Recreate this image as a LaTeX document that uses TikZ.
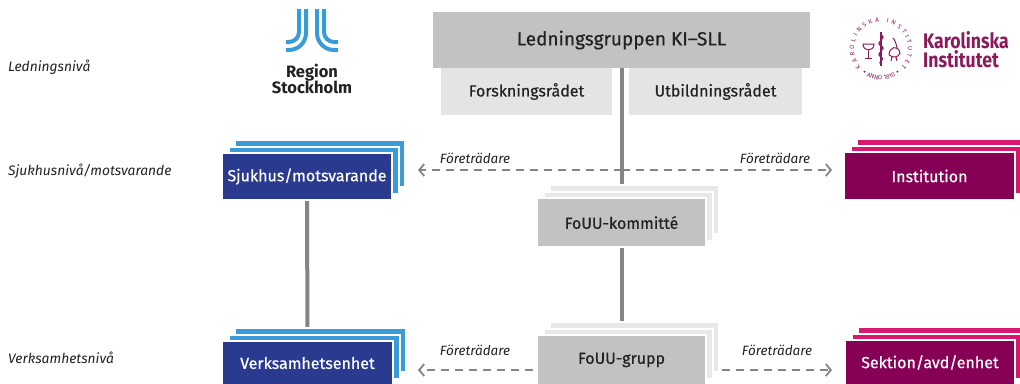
\documentclass[tikz,border=0pt]{standalone}
\usepackage{fontspec}
\setmainfont{Fira Sans}
\newfontfamily\boxfont{Fira Sans}[FakeBold=0.5]
\usetikzlibrary{arrows.meta,decorations.text}
\pgfdeclarelayer{backdrop}
\pgfdeclarelayer{conn}
\pgfdeclarelayer{bg}
\pgfsetlayers{backdrop,conn,bg,main}
\definecolor{rsdark}{HTML}{2A3B8F}
\definecolor{rslight}{HTML}{3A9BD9}
\definecolor{kipurple}{HTML}{860056}
\definecolor{kipink}{HTML}{D8186E}
\definecolor{boxgray}{HTML}{C2C2C2}
\definecolor{palegray}{HTML}{E4E4E4}
\definecolor{layergray}{HTML}{E8E8E8}
\definecolor{linegray}{HTML}{858585}
\definecolor{textdark}{HTML}{222222}
\definecolor{kitext}{HTML}{8A1A5C}
\newcommand\mystack[3]{%
  \begin{pgfonlayer}{bg}
    \path[layerbox,fill=#2] ([shift={(2*#3,-2*#3)}]#1.south west) rectangle ([shift={(2*#3,-2*#3)}]#1.north east);
    \path[layerbox,fill=#2] ([shift={(#3,-#3)}]#1.south west) rectangle ([shift={(#3,-#3)}]#1.north east);
  \end{pgfonlayer}}
\tikzset{
  frontbox/.style={draw=white, line width=2pt, inner sep=0pt, outer sep=0pt,
    font=\boxfont\fontsize{16}{18}\selectfont},
  layerbox/.style={draw=white, line width=2pt},
  flatbox/.style={inner sep=0pt, outer sep=0pt, text=textdark},
  vline/.style={draw=linegray, line width=4pt},
  repline/.style={draw=linegray, line width=1.8pt, dash pattern=on 8pt off 6pt,
    -{Straight Barb[length=5pt,width=12pt]}},
  replabel/.style={font=\itshape\fontsize{13.5}{15}\selectfont, text=textdark, inner sep=0pt},
  levellabel/.style={font=\itshape\fontsize{13.8}{15}\selectfont, text=textdark, anchor=west, inner sep=0pt},
  rsstripe/.style={draw=rslight, line width=4pt},
  kilogo/.style={inner sep=0pt, text=kitext, font=\bfseries\fontsize{21}{21}\selectfont, anchor=base west},
}
\begin{document}
\begin{tikzpicture}[x=1pt,y=-1pt]
\useasboundingbox (0,0) rectangle (1020,383);
\begin{pgfonlayer}{backdrop}
  \fill[white] (0,0) rectangle (1020,383);
\end{pgfonlayer}

% level labels
\node[levellabel] (lvl1) at (8,67) {Ledningsnivå};
\node[levellabel] (lvl2) at (8,171) {Sjukhusnivå/motsvarande};
\node[levellabel] (lvl3) at (8,358) {Verksamhetsnivå};

% top management
\node[flatbox, fill=boxgray, minimum width=377pt, minimum height=56pt,
  font=\boxfont\fontsize{19}{20}\selectfont] (lg) at (621.5,40) {Ledningsgruppen KI–SLL};
\node[flatbox, fill=palegray, minimum width=171pt, minimum height=47pt,
  font=\boxfont\fontsize{16}{18}\selectfont] (fr) at (526.5,91.5) {Forskningsrådet};
\node[flatbox, fill=palegray, minimum width=173pt, minimum height=47pt,
  font=\boxfont\fontsize{16}{18}\selectfont] (ub) at (715.5,91.5) {Utbildningsrådet};

% stacks
\node[frontbox, fill=rsdark, text=white, minimum width=170pt, minimum height=47pt] (sj) at (307,176.5) {Sjukhus/motsvarande};
\mystack{sj}{rslight}{6.5}
\node[frontbox, fill=kipurple, text=white, minimum width=171pt, minimum height=48pt] (inst) at (929.5,176) {Institution};
\mystack{inst}{kipink}{6.5}
\node[frontbox, fill=boxgray, text=textdark, minimum width=169pt, minimum height=49pt] (kom) at (621.5,222.5) {FoUU-kommitté};
\mystack{kom}{layergray}{6.5}
\node[frontbox, fill=boxgray, text=textdark, minimum width=169pt, minimum height=50pt] (grp) at (621.5,360) {FoUU-grupp};
\mystack{grp}{layergray}{6.5}
\node[frontbox, fill=rsdark, text=white, minimum width=171pt, minimum height=44pt] (vh) at (307.5,363) {Verksamhetsenhet};
\mystack{vh}{rslight}{6.5}
\node[frontbox, fill=kipurple, text=white, minimum width=170pt, minimum height=45pt] (sek) at (930,362.5) {Sektion/avd/enhet};
\mystack{sek}{kipink}{6.5}

% connectors
\coordinate (mid) at (621.5,170);
\begin{pgfonlayer}{conn}
  \draw[vline] (lg.south) -- (kom.north);
  \draw[vline] (kom.south) -- (grp.north);
  \draw[vline] (sj.south) -- (vh.north);
\end{pgfonlayer}
\draw[repline, shorten >=26pt] (mid) -- (sj.east |- mid);
\draw[repline, shorten >=12pt] (mid) -- (inst.west |- mid);
\draw[repline, shorten <=4pt, shorten >=25pt] ([yshift=-10pt]grp.west) -- ([yshift=-10pt]grp.west -| vh.east);
\draw[repline, shorten <=16pt, shorten >=13pt] ([yshift=-10pt]grp.east) -- ([yshift=-10pt]grp.east -| sek.west);

\node[replabel] (rep1) at (475,158) {Företrädare};
\node[replabel] (rep2) at (775,158) {Företrädare};
\node[replabel] (rep3) at (475,350) {Företrädare};
\node[replabel] (rep4) at (777,350) {Företrädare};

% Region Stockholm logo
\draw[rsstripe, rounded corners=10pt] (299,9) -- (299,42) -- (286,42);
\draw[rsstripe, rounded corners=17pt] (306,9) -- (306,50) -- (286,50);
\draw[rsstripe, rounded corners=17pt] (317,9) -- (317,50) -- (338,50);
\draw[rsstripe, rounded corners=10pt] (324,9) -- (324,42) -- (338,42);
\node[inner sep=0pt, text=textdark, font=\bfseries\fontsize{16.5}{16}\selectfont, anchor=base] (rs1) at (312,77) {Region};
\node[inner sep=0pt, text=textdark, font=\bfseries\fontsize{16.5}{16}\selectfont, anchor=base] (rs2) at (312,93) {Stockholm};

% Karolinska Institutet logo
\node[kilogo] (ki1) at (923,48) {\scalebox{0.84}[1]{Karolinska}};
\node[kilogo] (ki2) at (923,67) {\scalebox{0.84}[1]{Institutet}};
\begin{scope}[shift={(881,49)}, y=1pt]
  \path[decorate, decoration={text along path, text align={fit to path},
    text={|\fontsize{6.2}{6.2}\selectfont\color{kitext}|KAROLINSKA INSTITUTET}}]
    (222:27pt) arc[start angle=222, end angle=-42, radius=27pt];
  \path[decorate, decoration={text along path, text align=center,
    text={|\fontsize{6.2}{6.2}\selectfont\color{kitext}|ANNO 1810}}]
    (242:31pt) arc[start angle=242, end angle=298, radius=31pt];
  \fill[kitext] (234:28pt) circle (1.1pt);
  \fill[kitext] (306:28pt) circle (1.1pt);
  % staff with serpent
  \draw[kitext, line width=1.2pt] (0,-17) -- (0,17);
  \draw[kitext, line width=1.2pt] (0,14) .. controls (7,11) and (-7,7) .. (0,3)
     .. controls (7,0) and (-7,-4) .. (0,-8) .. controls (5,-10) and (-4,-13) .. (0,-16);
  % cup
  \draw[kitext, line width=1pt] (-18,5) .. controls (-18,-3) and (-7,-3) .. (-7,5) -- cycle;
  \draw[kitext, line width=1pt] (-12.5,-1) -- (-12.5,-9) (-16,-9) -- (-9,-9);
  % rooster
  \draw[kitext, line width=1pt] (8,-6) .. controls (8,2) and (17,5) .. (19,-4)
     .. controls (17,-9) and (12,-9) .. (8,-6);
  \draw[kitext, line width=1pt] (16,1) .. controls (15,7) and (13,10) .. (12,11)
     (11,-8) -- (10,-12) (15,-8) -- (16,-12);
\end{scope}
\end{tikzpicture}
\end{document}
